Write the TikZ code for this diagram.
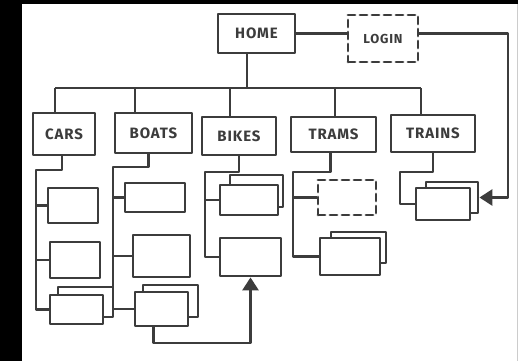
\documentclass[tikz,border=0pt]{standalone}
\usepackage{fontspec}
\newfontfamily\handfont[LetterSpace=6]{Fira Sans}
\usetikzlibrary{arrows.meta}
\definecolor{ink}{RGB}{60,60,60}
\definecolor{edgegrey}{gray}{0.8}
\tikzset{
  page/.style={draw=ink,line width=2.8pt,fill=white,inner sep=0pt,line join=round,font=\handfont\bfseries\fontsize{15}{15}\selectfont,text=ink},
  ghost/.style={page,dash pattern=on 7pt off 5pt,line cap=round},
  link/.style={draw=ink,line width=2.8pt,line join=round},
  tip/.style={-{Triangle[length=13pt,width=16pt]}},
}
\begin{document}
\begin{tikzpicture}[x=1pt,y=-1pt]
  \useasboundingbox (0,0) rectangle (518,361);
  \fill[black] (0,0) rectangle (518,361);
  \fill[white] (22,4) rectangle (516.5,361);
  \fill[edgegrey] (516.5,4) rectangle (518,361);
  % top level
  \node[page,minimum width=77pt,minimum height=39pt] (home) at (256.5,33.5) {HOME};
  \node[ghost,minimum width=70pt,minimum height=47pt,font=\handfont\bfseries\fontsize{13}{13}\selectfont] (login) at (383,38.5) {LOGIN};
  \node[page,minimum width=62pt,minimum height=42pt] (cars) at (64,134) {CARS};
  \node[page,minimum width=77pt,minimum height=40pt] (boats) at (153.5,133) {BOATS};
  \node[page,minimum width=74pt,minimum height=38pt] (bikes) at (239,136) {BIKES};
  \node[page,minimum width=85pt,minimum height=35pt] (trams) at (333.5,134.5) {TRAMS};
  \node[page,minimum width=84pt,minimum height=37pt] (trains) at (433,133.5) {TRAINS};
  % sub pages
  \node[page,minimum width=50pt,minimum height=35pt] (cars1) at (73,205.5) {};
  \node[page,minimum width=50pt,minimum height=36pt] (cars2) at (75,260) {};
  \node[page,minimum width=55pt,minimum height=30pt] (cars3b) at (85.5,302) {};
  \node[page,minimum width=53pt,minimum height=29pt] (cars3) at (76.5,309.5) {};
  \node[page,minimum width=60pt,minimum height=29pt] (boats1) at (155,197.5) {};
  \node[page,minimum width=57pt,minimum height=42pt] (boats2) at (161.5,256) {};
  \node[page,minimum width=55pt,minimum height=32pt] (boats3b) at (170.5,301) {};
  \node[page,minimum width=53pt,minimum height=34pt] (boats3) at (161.5,309) {};
  \node[page,minimum width=53pt,minimum height=32pt] (bikes1b) at (256.5,191) {};
  \node[page,minimum width=58pt,minimum height=30pt] (bikes1) at (249,200) {};
  \node[page,minimum width=61pt,minimum height=38pt] (bikes2) at (250.5,257) {};
  \node[ghost,minimum width=58pt,minimum height=35pt] (trams1) at (347,197.5) {};
  \node[page,minimum width=55pt,minimum height=31pt] (trams2b) at (358.5,247.5) {};
  \node[page,minimum width=60pt,minimum height=37pt] (trams2) at (350,256.5) {};
  \node[page,minimum width=52pt,minimum height=31pt] (trains1b) at (452,197.5) {};
  \node[page,minimum width=54pt,minimum height=32pt] (trains1) at (443,204) {};
  % junctions
  \coordinate (bus) at (247,88);
  \coordinate (dCars) at (55,88);
  \coordinate (dBoats) at (135,88);
  \coordinate (dBikes) at (230,88);
  \coordinate (dTrams) at (335,88);
  \coordinate (dTrains) at (421,88);
  \coordinate (carsK) at (36,170);
  \coordinate (boatsK) at (113,167);
  \coordinate (bikesK) at (205,172);
  \coordinate (tramsK) at (293,172);
  \coordinate (trainsK) at (400,172);
  \coordinate (under) at (250.5,343);
  \coordinate (ret) at (508,33.5);
  % home to sections
  \draw[link] (bus |- home.south) -- (bus);
  \draw[link] (dCars) -- (dTrains);
  \draw[link] (dCars) -- (dCars |- cars.north);
  \draw[link] (dBoats) -- (dBoats |- boats.north);
  \draw[link] (dBikes) -- (dBikes |- bikes.north);
  \draw[link] (dTrams) -- (dTrams |- trams.north);
  \draw[link] (dTrains) -- (dTrains |- trains.north);
  \draw[link] (home.east) -- (login.west |- home.east);
  \draw[link,tip] (login.east |- home.east) -- (ret) -- (ret |- trains1b.east) -- (trains1b.east);
  % section trees
  \draw[link] ([xshift=-2pt]cars.south) |- (carsK) |- (cars3.west);
  \draw[link] (carsK |- cars1.west) -- (cars1.west);
  \draw[link] (carsK |- cars2.west) -- (cars2.west);
  \draw[link] ([xshift=-5pt]boats.south) |- (boatsK) |- (boats3.west);
  \draw[link] (boatsK |- boats1.west) -- (boats1.west);
  \draw[link] (boatsK |- boats2.west) -- (boats2.west);
  \draw[link,tip] ([xshift=-8pt]boats3.south) |- (under) -- (bikes2.south);
  \draw[link] (bikes.south) |- (bikesK) |- (bikes2.west);
  \draw[link] (bikesK |- bikes1.west) -- (bikes1.west);
  \draw[link] ([xshift=-3pt]trams.south) |- (tramsK) |- (trams2.west);
  \draw[link] (tramsK |- trams1.west) -- (trams1.west);
  \draw[link] (trains.south) |- (trainsK) |- (trains1.west);
\end{tikzpicture}
\end{document}
